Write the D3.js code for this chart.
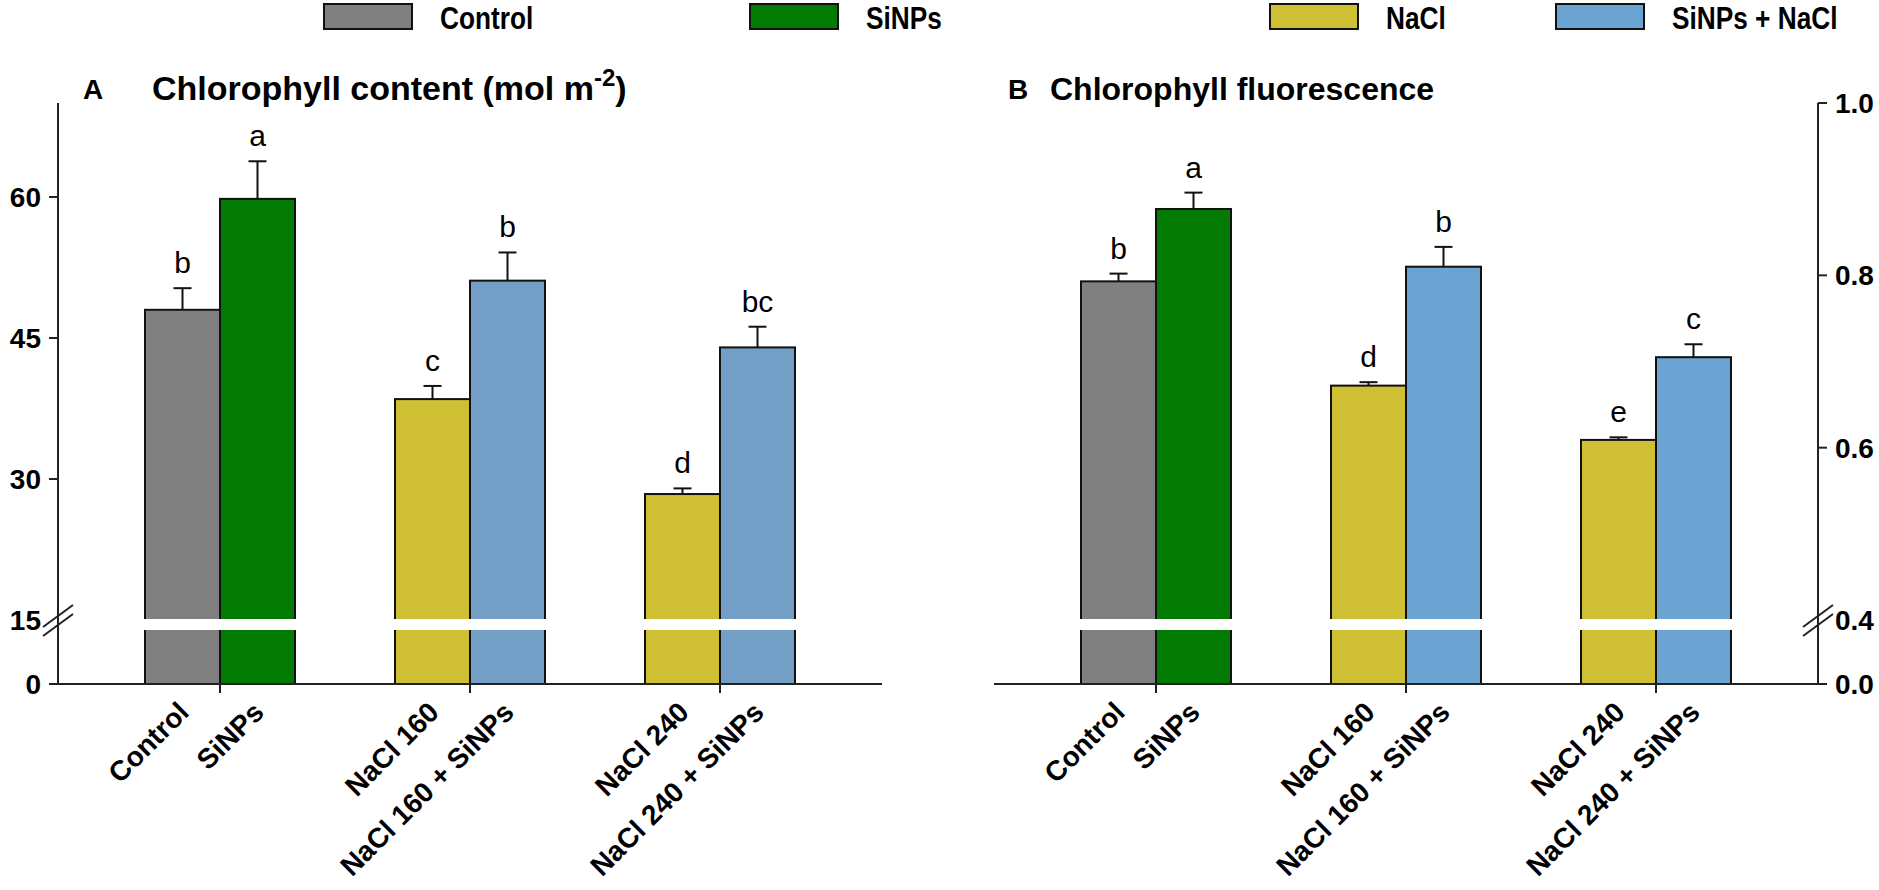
<!DOCTYPE html>
<html><head><meta charset="utf-8">
<script src="https://cdn.jsdelivr.net/npm/d3@7/dist/d3.min.js"></script>
<style>
body{margin:0;background:#fff;}
text{font-family:"Liberation Sans",Arial,sans-serif;}
</style></head>
<body>
<svg id="chart" width="1879" height="890"></svg>
<script>
// ---------- data ----------
const groups = ["G1", "G2", "G3"];
const treatments = ["Control", "SiNPs", "NaCl 160", "NaCl 160 + SiNPs", "NaCl 240", "NaCl 240 + SiNPs"];
const treatmentGroup = [0, 0, 1, 1, 2, 2];
const treatmentSeries = ["Control", "SiNPs", "NaCl", "SiNPs + NaCl", "NaCl", "SiNPs + NaCl"];
const legendLabels = ["Control", "SiNPs", "NaCl", "SiNPs + NaCl"];

const chlValues  = [48.0, 59.8, 38.5, 51.1, 28.4, 44.0];
const chlErrors  = [2.3, 4.0, 1.4, 3.0, 0.6, 2.2];
const chlLetters = ["b", "a", "c", "b", "d", "bc"];
const chlTicks   = [0, 15, 30, 45, 60];

const fluValues  = [0.793, 0.877, 0.672, 0.810, 0.609, 0.705];
const fluErrors  = [0.009, 0.019, 0.004, 0.023, 0.003, 0.015];
const fluLetters = ["b", "a", "d", "b", "e", "c"];
const fluTicks   = [0.0, 0.4, 0.6, 0.8, 1.0];

// ---------- styles ----------
const colorA = {"Control":"#808080","SiNPs":"#037a03","NaCl":"#cfbf34","SiNPs + NaCl":"#739ec6"};
const colorB = {"Control":"#808080","SiNPs":"#037a03","NaCl":"#cfbf34","SiNPs + NaCl":"#6ba4d2"};

const svg = d3.select("#chart");
const TOP = 103, BREAK_HI = 620, BREAK_LO = 630, BASE = 684;
const barW = 75;

function panel(cfg){
  const g = svg.append("g");
  const x = d3.scalePoint().domain(groups).range([cfg.x0, cfg.x1]).padding(0.648);
  const sub = d3.scaleBand().domain([0,1]).range([-barW, barW]);
  const yU = d3.scaleLinear().domain(cfg.upper).range([BREAK_HI, TOP]);
  const yL = d3.scaleLinear().domain(cfg.lower).range([BASE, BREAK_LO]);

  const rows = treatments.map((t,i)=>({t, i, g: groups[treatmentGroup[i]], k: i%2,
      v: cfg.values[i], e: cfg.errors[i], l: cfg.letters[i], s: treatmentSeries[i]}));

  g.selectAll("rect.bar").data(rows).join("rect").attr("class","bar")
    .attr("x", d=>x(d.g)+sub(d.k)).attr("width", sub.bandwidth())
    .attr("y", d=>yU(d.v)).attr("height", d=>BASE - yU(d.v))
    .attr("fill", d=>cfg.colors[d.s]).attr("stroke","#111").attr("stroke-width",2);

  const eb = g.selectAll("g.err").data(rows).join("g").attr("class","err");
  eb.append("line").attr("x1",d=>x(d.g)+sub(d.k)+barW/2).attr("x2",d=>x(d.g)+sub(d.k)+barW/2)
    .attr("y1",d=>yU(d.v)).attr("y2",d=>yU(d.v+d.e)).attr("stroke","#111").attr("stroke-width",2);
  eb.append("line").attr("x1",d=>x(d.g)+sub(d.k)+barW/2-9).attr("x2",d=>x(d.g)+sub(d.k)+barW/2+9)
    .attr("y1",d=>yU(d.v+d.e)).attr("y2",d=>yU(d.v+d.e)).attr("stroke","#111").attr("stroke-width",2);

  g.selectAll("text.let").data(rows).join("text").attr("class","let")
    .attr("x", d=>x(d.g)+sub(d.k)+barW/2).attr("y", d=>yU(d.v+d.e)-15)
    .attr("text-anchor","middle").attr("font-size",30).attr("fill","#000").text(d=>d.l);

  g.selectAll("rect.brk").data(groups).join("rect").attr("class","brk")
    .attr("x", d=>x(d)-barW-2).attr("width", 2*barW+4)
    .attr("y", BREAK_HI-1).attr("height", BREAK_LO-BREAK_HI+1).attr("fill","#fff");

  g.append("line").attr("x1",cfg.x0).attr("x2",cfg.x1).attr("y1",BASE).attr("y2",BASE)
    .attr("stroke","#222").attr("stroke-width",2);
  g.selectAll("line.xt").data(groups).join("line").attr("class","xt")
    .attr("x1",d=>x(d)).attr("x2",d=>x(d)).attr("y1",BASE).attr("y2",BASE+9)
    .attr("stroke","#222").attr("stroke-width",2);
  g.selectAll("text.xl").data(rows).join("text").attr("class","xl")
    .attr("transform", d=>`translate(${x(d.g)+sub(d.k)+barW/2+8},${BASE+30}) rotate(-45)`)
    .attr("text-anchor","end").attr("font-size",28).attr("font-weight","bold").text(d=>d.t);

  const ax = cfg.axisX;
  g.append("line").attr("x1",ax).attr("x2",ax).attr("y1",TOP).attr("y2",BASE)
    .attr("stroke","#222").attr("stroke-width",2);
  const dir = cfg.side === "left" ? -1 : 1;
  const ticks = cfg.ticks.map(t=>({t, y: t < cfg.upper[0] ? yL(t) : (t === cfg.upper[0] ? BREAK_HI : yU(t)), brk: t === cfg.upper[0]}));
  g.selectAll("line.yt").data(ticks.filter(d=>!d.brk)).join("line").attr("class","yt")
    .attr("x1",ax).attr("x2",ax+dir*9).attr("y1",d=>d.y).attr("y2",d=>d.y)
    .attr("stroke","#222").attr("stroke-width",2);
  g.selectAll("text.yl").data(ticks).join("text").attr("class","yl")
    .attr("x", ax + dir*17).attr("y", d=>d.y).attr("dy","0.36em")
    .attr("text-anchor", cfg.side === "left" ? "end" : "start")
    .attr("font-size",28).attr("font-weight","bold").text(d=>cfg.fmt(d.t));
  [-4, 5].forEach(off=>{
    g.append("line").attr("x1",ax-15).attr("x2",ax+15)
      .attr("y1",BREAK_HI+off+11).attr("y2",BREAK_HI+off-11)
      .attr("stroke","#222").attr("stroke-width",2);
  });

  g.append("text").attr("x",cfg.letterX).attr("y",99).attr("font-size",28).attr("font-weight","bold").text(cfg.letter);
  const tt = g.append("text").attr("x",cfg.titleX).attr("y",100).attr("font-size",cfg.titleSize).attr("font-weight","bold");
  tt.append("tspan").text(cfg.title);
  if (cfg.sup){
    tt.append("tspan").attr("dy",-14).attr("font-size",24).text(cfg.sup);
    tt.append("tspan").attr("dy",14).attr("font-size",cfg.titleSize).text(")");
  }
}

panel({x0:58, x1:882, axisX:58, side:"left", upper:[15,70], lower:[0,15],
  values:chlValues, errors:chlErrors, letters:chlLetters, ticks:chlTicks, colors:colorA,
  fmt:d3.format("d"), letter:"A", letterX:83, titleX:152, titleSize:34, title:"Chlorophyll content (mol m", sup:"-2"});
panel({x0:994, x1:1818, axisX:1818, side:"right", upper:[0.4,1.0], lower:[0,0.4],
  values:fluValues, errors:fluErrors, letters:fluLetters, ticks:fluTicks, colors:colorB,
  fmt:d3.format(".1f"), letter:"B", letterX:1008, titleX:1050, titleSize:32, title:"Chlorophyll fluorescence"});

// legend
const legX = d3.scaleOrdinal().domain(legendLabels).range([324, 750, 1270, 1556]);
const lg = svg.append("g").selectAll("g").data(legendLabels).join("g")
  .attr("transform", d=>`translate(${legX(d)},4)`);
lg.append("rect").attr("width",88).attr("height",25).attr("fill",d=>colorB[d])
  .attr("stroke","#111").attr("stroke-width",2);
lg.append("text").attr("transform","translate(116,13) scale(0.82,1)").attr("dy","0.36em")
  .attr("font-size",32).attr("font-weight","bold").text(d=>d);
</script>
</body></html>
